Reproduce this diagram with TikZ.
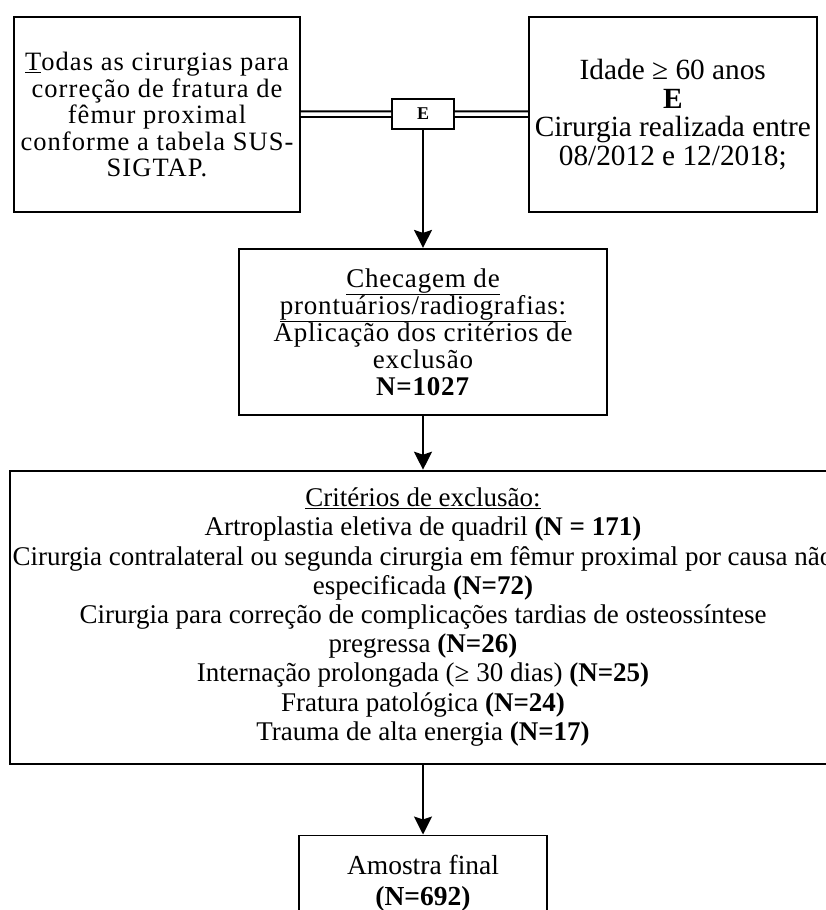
\documentclass[tikz,border=0pt]{standalone}
\usepackage{fontspec}
\setmainfont{Liberation Serif}
\newfontfamily\widefont{Liberation Serif}[LetterSpace=4]
\newfontfamily\midfont{Liberation Serif}[LetterSpace=3]
\usetikzlibrary{arrows.meta, positioning}

\begin{document}
\begin{tikzpicture}[
  x=1pt, y=1pt,
  node distance=50pt and 50pt,
  box/.style={
    draw, rectangle, line width=1.8pt, align=center, inner sep=0pt
  },
  arr/.style={-{Stealth[width=18pt, length=18pt, inset=3pt]}, line width=1.8pt},
  link/.style={double, double distance=3.5pt, line width=2pt},
]
  \useasboundingbox (0,0) rectangle (825,-910);

  % Inclusion row
  \node[box, minimum width=286pt, minimum height=195pt,
        font=\widefont\fontsize{26.5}{26.5}\selectfont] (todas) at (157,-114.5)
    {\underline{T}odas as cirurgias para\\ correção de fratura de\\
     fêmur proximal\\ conforme a tabela SUS-\\ SIGTAP.};
  \node[box, minimum width=288pt, minimum height=195pt,
        font=\fontsize{29.3}{28.8}\selectfont, right=227pt of todas] (idade)
    {Idade ≥ 60 anos\\ \textbf{E}\\ Cirurgia realizada entre\\ 08/2012 e 12/2018;};
  \node[box, minimum width=62pt, minimum height=30pt,
        font=\bfseries\fontsize{18}{18}\selectfont] (e) at (423,-114) {E};

  % Checking and exclusion
  \node[box, minimum width=368pt, minimum height=166pt,
        font=\midfont\fontsize{27}{27}\selectfont, below=118pt of e] (checa)
    {\underline{Checagem de}\\ \underline{prontuários/radiografias:}\\
     Aplicação dos critérios de\\ exclusão\\ \textbf{N=1027}};
  \node[box, minimum width=826pt, minimum height=293pt,
        font=\fontsize{27}{29.2}\selectfont, below=54pt of checa] (exclusao)
    {\underline{Critérios de exclusão:}\\
     Artroplastia eletiva de quadril \textbf{(N = 171)}\\
     Cirurgia contralateral ou segunda cirurgia em fêmur proximal por causa não\\
     especificada \textbf{(N=72)}\\
     Cirurgia para correção de complicações tardias de osteossíntese\\
     pregressa \textbf{(N=26)}\\
     Internação prolongada (≥ 30 dias) \textbf{(N=25)}\\
     Fratura patológica \textbf{(N=24)}\\
     Trauma de alta energia \textbf{(N=17)}};
  \node[box, minimum width=248pt, minimum height=95pt,
        font=\fontsize{27.5}{31}\selectfont, below=70pt of exclusao] (final)
    {Amostra final\\ \textbf{(N=692)}};

  % Connectors
  \draw[link] (todas) -- (e);
  \draw[link] (e) -- (idade);
  \draw[arr] (e) -- (checa);
  \draw[arr] (checa) -- (exclusao);
  \draw[arr] (exclusao) -- (final);
\end{tikzpicture}
\end{document}
